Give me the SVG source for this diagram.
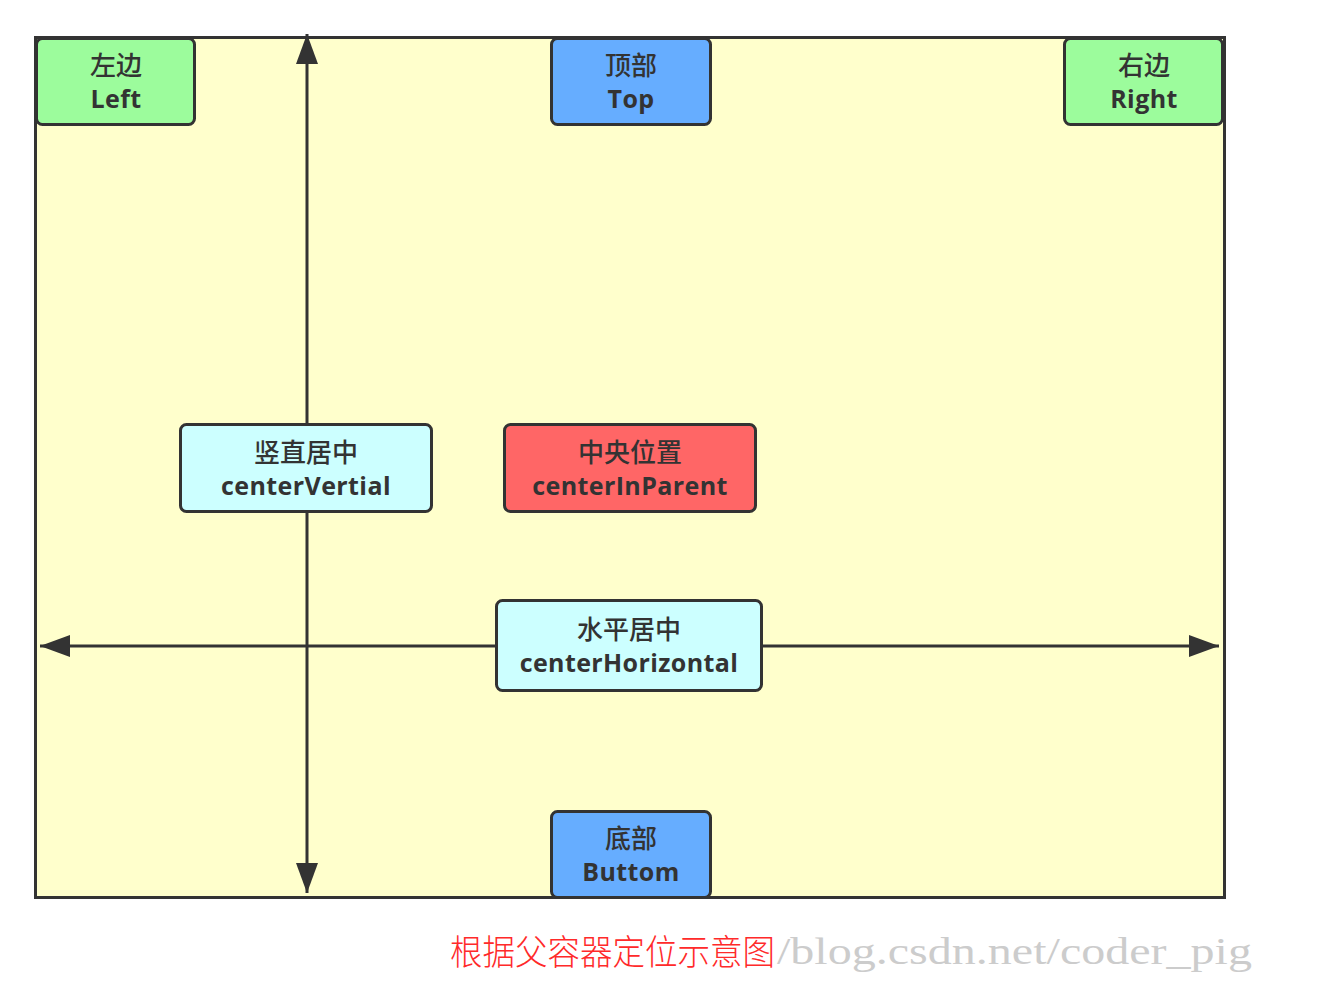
<svg xmlns="http://www.w3.org/2000/svg" width="1322" height="983" viewBox="0 0 1322 983">
<defs>
<style>
.node rect{stroke:#333;stroke-width:3}
.green{fill:#9cfc9c}
.blue{fill:#66adff}
.cyan{fill:#ccffff}
.red{fill:#ff6666}
.cn{font-family:"Noto Sans CJK SC",sans-serif;font-weight:500;font-size:26px;fill:#333;text-anchor:middle}
.en{font-family:"Open Sans","Noto Sans",sans-serif;font-weight:bold;font-size:25px;letter-spacing:0.4px;fill:#333;text-anchor:middle}
.conn{stroke:#333;stroke-width:3;fill:none}
</style>
<marker id="arrB" viewBox="0 0 30 22" refX="30" refY="11" markerWidth="30" markerHeight="22" markerUnits="userSpaceOnUse" orient="auto-start-reverse">
<path d="M0,0 L30,11 L0,22 z" fill="#333"/>
</marker>
</defs>
<rect x="0" y="0" width="1322" height="983" fill="#ffffff"/>
<g id="container">
<rect x="35.5" y="37.5" width="1189" height="860" fill="#ffffcc" stroke="#333" stroke-width="3"/>
</g>
<g id="connectors">
<line class="conn" x1="307" y1="470" x2="307" y2="34" marker-end="url(#arrB)"/>
<line class="conn" x1="307" y1="470" x2="307" y2="893" marker-end="url(#arrB)"/>
<line class="conn" x1="630" y1="646" x2="40" y2="646" marker-end="url(#arrB)"/>
<line class="conn" x1="630" y1="646" x2="1219" y2="646" marker-end="url(#arrB)"/>
</g>
<g id="node-left" class="node">
<rect class="green" x="36.5" y="38.5" width="158" height="86" rx="6"/>
<text class="cn" x="116" y="75">左边</text>
<text class="en" x="116" y="108">Left</text>
</g>
<g id="node-top" class="node">
<rect class="blue" x="551.5" y="38.5" width="159" height="86" rx="6"/>
<text class="cn" x="631" y="75">顶部</text>
<text class="en" x="631" y="108">Top</text>
</g>
<g id="node-right" class="node">
<rect class="green" x="1064.5" y="38.5" width="158" height="86" rx="6"/>
<text class="cn" x="1144" y="75">右边</text>
<text class="en" x="1144" y="108">Right</text>
</g>
<g id="node-centerVertial" class="node">
<rect class="cyan" x="180.5" y="424.5" width="251" height="87" rx="6"/>
<text class="cn" x="306" y="462">竖直居中</text>
<text class="en" x="306" y="495">centerVertial</text>
</g>
<g id="node-centerInParent" class="node">
<rect class="red" x="504.5" y="424.5" width="251" height="87" rx="6"/>
<text class="cn" x="630" y="462">中央位置</text>
<text class="en" x="630" y="495">centerInParent</text>
</g>
<g id="node-centerHorizontal" class="node">
<rect class="cyan" x="496.5" y="600.5" width="265" height="90" rx="6"/>
<text class="cn" x="629" y="639">水平居中</text>
<text class="en" x="629" y="672">centerHorizontal</text>
</g>
<g id="node-bottom" class="node">
<rect class="blue" x="551.5" y="811.5" width="159" height="86" rx="6"/>
<text class="cn" x="631" y="848">底部</text>
<text class="en" x="631" y="881">Buttom</text>
</g>
<text x="777" y="964" font-family="Liberation Serif,serif" font-size="38" fill="#cccccc" textLength="475" lengthAdjust="spacingAndGlyphs">/blog.csdn.net/coder_pig</text>
<text x="450" y="965" font-family="Noto Sans CJK SC,sans-serif" font-weight="300" font-size="35" fill="#ff2a2a" textLength="325" lengthAdjust="spacingAndGlyphs">根据父容器定位示意图</text>
</svg>
